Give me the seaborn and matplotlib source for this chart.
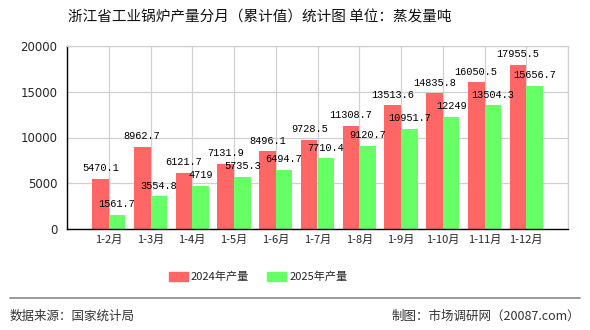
import numpy as np
import pandas as pd
import seaborn as sns
import matplotlib.pyplot as plt
import matplotlib.patches as mpatches

# 数据
months = ['1-2月', '1-3月', '1-4月', '1-5月', '1-6月', '1-7月', '1-8月', '1-9月', '1-10月', '1-11月', '1-12月']
values_2024 = [5470.1, 8962.7, 6121.7, 7131.9, 8496.1, 9728.5, 11308.7, 13513.6, 14835.8, 16050.5, 17955.5]
values_2025 = [1561.7, 3554.8, 4719, 5735.3, 6494.7, 7710.4, 9120.7, 10951.7, 12249, 13504.3, 15656.7]
labels_2025 = ['1561.7', '3554.8', '4719', '5735.3', '6494.7', '7710.4', '9120.7', '10951.7', '12249', '13504.3', '15656.7']
series = ['2024年产量', '2025年产量']
colors = ['#ff6666', '#66ff66']

df = pd.DataFrame({
    '月份': months * 2,
    '产量': values_2024 + values_2025,
    '年份': [series[0]] * len(months) + [series[1]] * len(months),
})

sns.set_theme(style='white')
plt.rcParams['font.family'] = ['Noto Sans CJK SC', 'DejaVu Sans']

fig = plt.figure(figsize=(5.9, 3.3), dpi=100)
ax = fig.add_axes([67 / 590, 1 - 229 / 330, 501 / 590, 183 / 330])

sns.barplot(data=df, x='月份', y='产量', hue='年份', palette=colors, width=0.8, gap=0,
            saturation=1, ax=ax, legend=False, zorder=2, edgecolor='none', linewidth=0)

# 数值标签
mono = ['Liberation Mono', 'DejaVu Sans Mono']
for i in range(len(months)):
    ax.annotate(f'{values_2024[i]:.1f}', (i - 0.2, values_2024[i]), xytext=(0, 4),
                textcoords='offset points', ha='center', va='bottom', fontsize=7.4, family=mono, color='black')
    ax.annotate(labels_2025[i], (i + 0.2, values_2025[i]), xytext=(0, 4),
                textcoords='offset points', ha='center', va='bottom', fontsize=7.4, family=mono, color='black')

ax.set_xlim(-1, 11)
ax.set_ylim(0, 20000)
ax.set_yticks([0, 5000, 10000, 15000, 20000])
ax.set_yticklabels(['0', '5000', '10000', '15000', '20000'], fontsize=8.5, family=['DejaVu Sans'])
ax.set_xticks(range(-1, 12))
ax.set_xticklabels([''] + months + [''], fontsize=8)
ax.set_xlabel('')
ax.set_ylabel('')
ax.grid(True, color='#d0d0d0', linewidth=0.9, zorder=0)
ax.set_axisbelow(True)
ax.tick_params(axis='y', length=5, width=1, color='black', pad=2)
ax.tick_params(axis='x', length=2.5, width=1, color='black', pad=2)
for s in ['left', 'bottom']:
    ax.spines[s].set_color('black')
    ax.spines[s].set_linewidth(1)
for s in ['top', 'right']:
    ax.spines[s].set_color('#d0d0d0')
    ax.spines[s].set_linewidth(0.9)

# 标题
fig.text(260 / 590, 1 - 17 / 330, '浙江省工业锅炉产量分月（累计值）统计图 单位：蒸发量吨',
         ha='center', va='center', fontsize=10.5, color='#111111')

# 图例
handles = [mpatches.Patch(color=c, label=s) for c, s in zip(colors, series)]
fig.legend(handles=handles, loc='center', bbox_to_anchor=(258 / 590, 1 - 277 / 330), ncol=2,
           frameon=False, fontsize=8, handlelength=1.7, handleheight=0.8, columnspacing=1.6,
           handletextpad=0.3)

# 底部分隔线与说明
fig.add_artist(plt.Line2D([10 / 590, 580 / 590], [1 - 298 / 330, 1 - 298 / 330],
                          color='#888888', linewidth=1.2, transform=fig.transFigure))
fig.text(10 / 590, 1 - 316 / 330, '数据来源：国家统计局', ha='left', va='center', fontsize=9, color='#333333')
fig.text(580 / 590, 1 - 316 / 330, '制图：市场调研网（20087.com）', ha='right', va='center', fontsize=9, color='#333333')

fig.savefig('out.png', dpi=100)
